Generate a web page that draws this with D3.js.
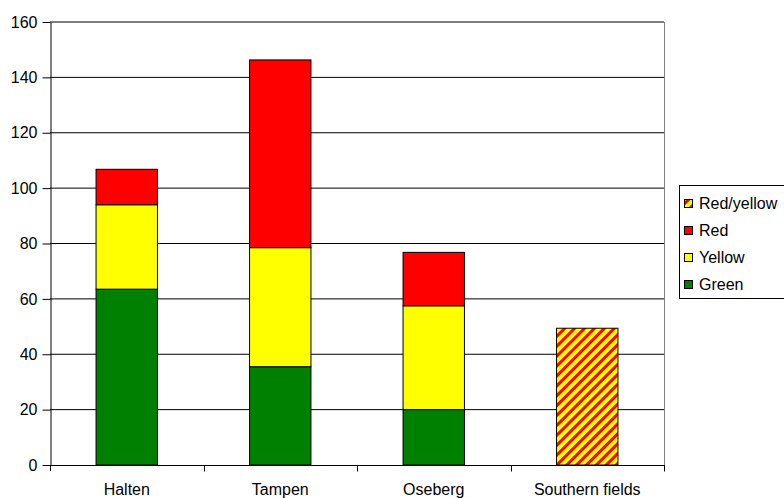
<!DOCTYPE html>
<html>
<head>
<meta charset="utf-8">
<script src="https://cdn.jsdelivr.net/npm/d3@7"></script>
<style>
  html, body { margin: 0; padding: 0; background: #fff; }
  svg { display: block; font-family: "Liberation Sans", Arial, sans-serif; }
</style>
</head>
<body>
<svg id="chart" width="784" height="498"></svg>
<script>
// Fields along the x axis
const categories = ["Halten", "Tampen", "Oseberg", "Southern fields"];
// Stacked values per field, bottom to top
const green     = [63.5, 35.5, 20.0, 0];
const yellow    = [30.5, 43.0, 37.5, 0];
const red       = [12.8, 67.8, 19.3, 0];
const redYellow = [0,    0,    0,    49.4];
const yTicks = [0, 20, 40, 60, 80, 100, 120, 140, 160];

const seriesKeys = ["Green", "Yellow", "Red", "Red/yellow"];
const seriesValues = { "Green": green, "Yellow": yellow, "Red": red, "Red/yellow": redYellow };
const legendOrder = ["Red/yellow", "Red", "Yellow", "Green"];

const rows = categories.map((c, i) => {
  const r = { category: c };
  seriesKeys.forEach(k => { r[k] = seriesValues[k][i]; });
  return r;
});

const svg = d3.select("#chart");
const plotLeft = 50, plotRight = 664, plotTop = 22, plotBottom = 465;

// Red/yellow diagonal stripe pattern
const defs = svg.append("defs");
const pat = defs.append("pattern")
  .attr("id", "stripes")
  .attr("patternUnits", "userSpaceOnUse")
  .attr("width", 7).attr("height", 7)
  .attr("patternTransform", "rotate(45)");
pat.append("rect").attr("width", 7).attr("height", 7).attr("fill", "#ffff00");
pat.append("rect").attr("width", 3).attr("height", 7).attr("fill", "#ff0000");

const fills = { "Green": "#008000", "Yellow": "#ffff00", "Red": "#ff0000", "Red/yellow": "url(#stripes)" };

const x = d3.scaleBand().domain(categories).range([plotLeft, plotRight]).paddingInner(0.6).paddingOuter(0.3);
const y = d3.scaleLinear().domain([0, 160]).range([plotBottom, plotTop]);

// Horizontal gridlines
svg.append("g").selectAll("line").data(yTicks.filter(t => t > 0)).join("line")
  .attr("x1", plotLeft).attr("x2", plotRight)
  .attr("y1", d => y(d)).attr("y2", d => y(d))
  .attr("stroke", "#000").attr("stroke-width", 1);

// Right border of the plot area
svg.append("line").attr("x1", plotRight + 0.5).attr("x2", plotRight + 0.5)
  .attr("y1", plotTop).attr("y2", plotBottom).attr("stroke", "#808080");

// Stacked bars
const stacked = d3.stack().keys(seriesKeys)(rows);
svg.append("g").selectAll("g").data(stacked).join("g")
  .attr("fill", d => fills[d.key])
  .selectAll("rect").data(d => d.filter(s => s[1] - s[0] > 0)).join("rect")
  .attr("x", d => x(d.data.category))
  .attr("width", x.bandwidth())
  .attr("y", d => y(d[1]))
  .attr("height", d => y(d[0]) - y(d[1]))
  .attr("stroke", "#000").attr("stroke-width", 1);

// Y axis
const yAxis = svg.append("g").attr("transform", `translate(${plotLeft + 0.5},0)`)
  .call(d3.axisLeft(y).tickValues(yTicks).tickSize(8).tickPadding(5).tickSizeOuter(0));
yAxis.select(".domain").attr("stroke", "#000");
yAxis.selectAll(".tick line").attr("stroke", "#000");
yAxis.selectAll("text").attr("font-size", 16).attr("fill", "#000")
  .attr("font-family", "Liberation Sans, Arial, sans-serif");

// X axis: ticks sit on category boundaries
const xAxisG = svg.append("g").attr("transform", `translate(0,${plotBottom + 0.5})`);
xAxisG.append("line").attr("x1", plotLeft).attr("x2", plotRight + 1).attr("stroke", "#000");
const boundaries = d3.range(1, categories.length + 1)
  .map(i => plotLeft + i * (plotRight - plotLeft) / categories.length);
xAxisG.selectAll("line.tick").data(boundaries).join("line").attr("class", "tick")
  .attr("x1", d => Math.round(d) + 0.5).attr("x2", d => Math.round(d) + 0.5)
  .attr("y1", 0).attr("y2", 6).attr("stroke", "#000");
xAxisG.selectAll("text").data(categories).join("text")
  .attr("x", d => x(d) + x.bandwidth() / 2)
  .attr("y", 29.5)
  .attr("text-anchor", "middle")
  .attr("font-size", 16)
  .text(d => d);
svg.append("line").attr("x1", plotLeft + 0.5).attr("x2", plotLeft + 0.5)
  .attr("y1", plotBottom).attr("y2", plotBottom + 6).attr("stroke", "#000");

// Legend
const legend = svg.append("g");
legend.append("rect").attr("x", 679.5).attr("y", 185.5).attr("width", 130).attr("height", 113)
  .attr("fill", "#fff").attr("stroke", "#000");
const item = legend.selectAll("g.item").data(legendOrder).join("g").attr("class", "item")
  .attr("transform", (d, i) => `translate(0,${203 + i * 27})`);
item.append("rect").attr("x", 684.5).attr("y", -3.5).attr("width", 8).attr("height", 8)
  .attr("fill", d => fills[d]).attr("stroke", "#000");
item.append("text").attr("x", 699).attr("y", 6).attr("font-size", 16).text(d => d);
</script>
</body>
</html>
